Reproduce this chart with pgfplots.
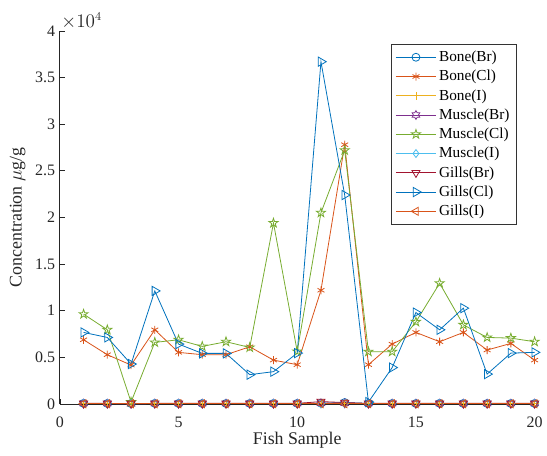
\documentclass[border=0pt]{standalone}
\usepackage{pgfplots}
\pgfplotsset{compat=1.18}
\usepackage{fontspec}
\setmainfont{Liberation Serif}
\definecolor{c1}{rgb}{0,0.447,0.741}
\definecolor{c2}{rgb}{0.85,0.325,0.098}
\definecolor{c3}{rgb}{0.929,0.694,0.125}
\definecolor{c4}{rgb}{0.494,0.184,0.556}
\definecolor{c5}{rgb}{0.466,0.674,0.188}
\definecolor{c6}{rgb}{0.301,0.745,0.933}
\definecolor{c7}{rgb}{0.635,0.078,0.184}
\usetikzlibrary{plotmarks}
\pgfdeclareplotmark{pentagram}{%
  \pgfpathmoveto{\pgfpointpolar{90}{1.2\pgfplotmarksize}}%
  \pgfpathlineto{\pgfpointpolar{126}{0.46\pgfplotmarksize}}%
  \pgfpathlineto{\pgfpointpolar{162}{1.2\pgfplotmarksize}}%
  \pgfpathlineto{\pgfpointpolar{198}{0.46\pgfplotmarksize}}%
  \pgfpathlineto{\pgfpointpolar{234}{1.2\pgfplotmarksize}}%
  \pgfpathlineto{\pgfpointpolar{270}{0.46\pgfplotmarksize}}%
  \pgfpathlineto{\pgfpointpolar{306}{1.2\pgfplotmarksize}}%
  \pgfpathlineto{\pgfpointpolar{342}{0.46\pgfplotmarksize}}%
  \pgfpathlineto{\pgfpointpolar{18}{1.2\pgfplotmarksize}}%
  \pgfpathlineto{\pgfpointpolar{54}{0.46\pgfplotmarksize}}%
  \pgfpathclose\pgfusepathqstroke}
\pgfdeclareplotmark{hexagram}{%
  \pgfpathmoveto{\pgfpointpolar{90}{1.1\pgfplotmarksize}}%
  \pgfpathlineto{\pgfpointpolar{120}{0.635\pgfplotmarksize}}%
  \pgfpathlineto{\pgfpointpolar{150}{1.1\pgfplotmarksize}}%
  \pgfpathlineto{\pgfpointpolar{180}{0.635\pgfplotmarksize}}%
  \pgfpathlineto{\pgfpointpolar{210}{1.1\pgfplotmarksize}}%
  \pgfpathlineto{\pgfpointpolar{240}{0.635\pgfplotmarksize}}%
  \pgfpathlineto{\pgfpointpolar{270}{1.1\pgfplotmarksize}}%
  \pgfpathlineto{\pgfpointpolar{300}{0.635\pgfplotmarksize}}%
  \pgfpathlineto{\pgfpointpolar{330}{1.1\pgfplotmarksize}}%
  \pgfpathlineto{\pgfpointpolar{0}{0.635\pgfplotmarksize}}%
  \pgfpathlineto{\pgfpointpolar{30}{1.1\pgfplotmarksize}}%
  \pgfpathlineto{\pgfpointpolar{60}{0.635\pgfplotmarksize}}%
  \pgfpathclose\pgfusepathqstroke}
\begin{document}
\begin{tikzpicture}
\begin{axis}[
  scale only axis,
  width=357pt, height=280.5pt,
  xmin=0, xmax=20, ymin=0, ymax=40000,
  axis x line*=bottom, axis y line*=left,
  axis line style={black!85, line width=0.6pt},
  tick align=inside,
  tick style={black!85, line width=0.5pt},
  major tick length=4pt,
  xtick={0,5,10,15,20},
  ytick={0,5000,10000,15000,20000,25000,30000,35000,40000},
  yticklabels={0,0.5,1,1.5,2,2.5,3,3.5,4},
  scaled y ticks=false,
  /pgf/number format/assume math mode=true,
  ticklabel style={font=\fontsize{12}{13}\selectfont, text=black!85},
  xticklabel style={yshift=-6pt},
  xlabel={Fish Sample},
  ylabel={Concentration $\mu$g/g},
  label style={font=\fontsize{13.4}{14}\selectfont, text=black!85},
  xlabel style={yshift=3pt},
  ylabel style={yshift=0.5pt},
  clip=false,
  every axis plot/.append style={line width=0.6pt, mark size=3pt},
  legend style={at={(0.962,0.965)}, anchor=north east, draw=black!80, line width=0.5pt,
    font=\fontsize{11.5}{12}\selectfont, row sep=1.0pt, inner xsep=3pt, inner ysep=3pt},
  legend cell align=left,
  legend image code/.code={\draw[mark repeat=2,mark phase=2] plot coordinates {(0cm,0cm) (0.53cm,0cm) (1.06cm,0cm)};},
]
% Bone(Br)
\addplot[c1, mark=o] coordinates {(1,60)(2,50)(3,40)(4,60)(5,50)(6,50)(7,50)(8,50)(9,50)(10,60)(11,80)(12,150)(13,60)(14,50)(15,50)(16,60)(17,50)(18,50)(19,50)(20,50)};
\addlegendentry{Bone(Br)}
% Bone(Cl)
\addplot[c2, mark=asterisk] coordinates {(1,6880)(2,5280)(3,4170)(4,7950)(5,5530)(6,5280)(7,5280)(8,6130)(9,4700)(10,4210)(11,12190)(12,27800)(13,4210)(14,6420)(15,7670)(16,6670)(17,7670)(18,5780)(19,6490)(20,4700)};
\addlegendentry{Bone(Cl)}
% Bone(I)
\addplot[c3, mark=+] coordinates {(1,20)(2,20)(3,20)(4,20)(5,20)(6,20)(7,20)(8,20)(9,20)(10,20)(11,20)(12,20)(13,20)(14,20)(15,20)(16,20)(17,20)(18,20)(19,20)(20,20)};
\addlegendentry{Bone(I)}
% Muscle(Br)
\addplot[c4, mark=hexagram] coordinates {(1,40)(2,40)(3,30)(4,40)(5,40)(6,40)(7,40)(8,40)(9,40)(10,40)(11,60)(12,60)(13,40)(14,40)(15,40)(16,40)(17,40)(18,40)(19,40)(20,40)};
\addlegendentry{Muscle(Br)}
% Muscle(Cl)
\addplot[c5, mark=pentagram] coordinates {(1,9630)(2,7950)(3,200)(4,6600)(5,6880)(6,6170)(7,6670)(8,6060)(9,19400)(10,5630)(11,20500)(12,27200)(13,5600)(14,5600)(15,8800)(16,12940)(17,8480)(18,7130)(19,7060)(20,6670)};
\addlegendentry{Muscle(Cl)}
% Muscle(I)
\addplot[c6, mark=diamond] coordinates {(1,20)(2,20)(3,20)(4,20)(5,20)(6,20)(7,20)(8,20)(9,20)(10,20)(11,20)(12,20)(13,20)(14,20)(15,20)(16,20)(17,20)(18,20)(19,20)(20,20)};
\addlegendentry{Muscle(I)}
% Gills(Br)
\addplot[c7, mark=triangle, mark options={rotate=180}, mark size=3.5pt] coordinates {(1,60)(2,60)(3,50)(4,60)(5,60)(6,60)(7,60)(8,60)(9,60)(10,60)(11,250)(12,150)(13,60)(14,60)(15,60)(16,60)(17,60)(18,60)(19,60)(20,60)};
\addlegendentry{Gills(Br)}
% Gills(Cl)
\addplot[c1, mark=triangle, mark options={rotate=-90}, mark size=4pt] coordinates {(1,7670)(2,7130)(3,4280)(4,12120)(5,6420)(6,5420)(7,5420)(8,3140)(9,3460)(10,5450)(11,36700)(12,22400)(13,200)(14,3900)(15,9800)(16,7950)(17,10270)(18,3200)(19,5450)(20,5530)};
\addlegendentry{Gills(Cl)}
% Gills(I)
\addplot[c2, mark=triangle, mark options={rotate=90}, mark size=3.5pt] coordinates {(1,20)(2,20)(3,20)(4,20)(5,20)(6,20)(7,20)(8,20)(9,20)(10,20)(11,20)(12,20)(13,20)(14,20)(15,20)(16,20)(17,20)(18,20)(19,20)(20,20)};
\addlegendentry{Gills(I)}
\node[anchor=south west, inner sep=1pt, font=\fontsize{13.4}{14}\selectfont, text=black!85] at (rel axis cs:0,1) {$\times10^{4}$};
\path (rel axis cs:0,1) ++(-45pt,23.25pt) coordinate (tl);
\path (rel axis cs:1,0) ++(8.25pt,-39pt) coordinate (br);
\end{axis}
\useasboundingbox (tl) rectangle (br);
\end{tikzpicture}
\end{document}
